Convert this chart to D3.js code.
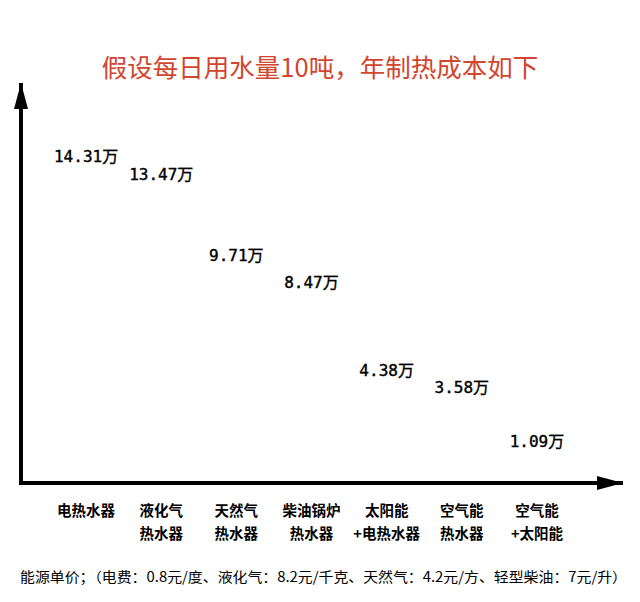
<!DOCTYPE html>
<html>
<head>
<meta charset="utf-8">
<script src="https://cdn.jsdelivr.net/npm/d3@7"></script>
<style>
  body { margin: 0; background: #fff; }
</style>
</head>
<body>
<div id="chart"></div>
<script>
// data
const line1 = ['电热水器', '液化气', '天然气', '柴油锅炉', '太阳能', '空气能', '空气能'];
const line2 = ['', '热水器', '热水器', '热水器', '+电热水器', '热水器', '+太阳能'];
const costs = [14.31, 13.47, 9.71, 8.47, 4.38, 3.58, 1.09];
const titleText = '假设每日用水量10吨，年制热成本如下';
const noteText = '能源单价；（电费：0.8元/度、液化气：8.2元/千克、天然气：4.2元/方、轻型柴油：7元/升）';

const W = 640, H = 602;
const svg = d3.select('#chart').append('svg')
  .attr('width', W).attr('height', H);

// arrow head
svg.append('defs').append('marker')
  .attr('id', 'arr')
  .attr('viewBox', '0 0 10 10')
  .attr('refX', 10).attr('refY', 5)
  .attr('markerWidth', 26).attr('markerHeight', 14)
  .attr('markerUnits', 'userSpaceOnUse')
  .attr('orient', 'auto')
  .attr('preserveAspectRatio', 'none')
  .append('path')
  .attr('d', 'M0,0 L10,5 L0,10 Z')
  .attr('fill', '#000');

const x = d3.scaleBand().domain(line1.map((d, i) => i)).range([48.5, 574.5]);
const y = d3.scaleLinear().domain([0, d3.max(costs)]).range([483, 175]);

// title
svg.append('text')
  .attr('x', 320).attr('y', 77)
  .attr('text-anchor', 'middle')
  .attr('font-family', "'Noto Sans CJK SC', sans-serif")
  .attr('font-size', 25.5)
  .attr('fill', '#d2452e')
  .text(titleText);

// axes
svg.append('line')
  .attr('x1', 21).attr('y1', 485).attr('x2', 21).attr('y2', 83)
  .attr('stroke', '#000').attr('stroke-width', 4)
  .attr('marker-end', 'url(#arr)');
svg.append('line')
  .attr('x1', 19).attr('y1', 483).attr('x2', 623).attr('y2', 483)
  .attr('stroke', '#000').attr('stroke-width', 4)
  .attr('marker-end', 'url(#arr)');

// value labels
svg.selectAll('.val')
  .data(costs)
  .enter()
  .append('text')
  .attr('class', 'val')
  .attr('x', (d, i) => x(i) + x.bandwidth() / 2)
  .attr('y', d => y(d) - 13)
  .attr('text-anchor', 'middle')
  .attr('font-family', "'DejaVu Sans Mono', 'Noto Sans CJK SC', monospace")
  .attr('font-size', 16)
  .attr('stroke', '#000')
  .attr('stroke-width', 0.4)
  .text(d => d.toFixed(2) + '万');

// category labels
const cat = svg.selectAll('.cat')
  .data(line1)
  .enter()
  .append('text')
  .attr('class', 'cat')
  .attr('text-anchor', 'middle')
  .attr('font-family', "'Noto Sans CJK SC', sans-serif")
  .attr('font-size', 14.5)
  .attr('font-weight', 'bold');
cat.append('tspan')
  .attr('x', (d, i) => x(i) + x.bandwidth() / 2)
  .attr('y', 516)
  .text(d => d);
cat.append('tspan')
  .attr('x', (d, i) => x(i) + x.bandwidth() / 2)
  .attr('y', 539)
  .text((d, i) => line2[i]);

// footer note
svg.append('text')
  .attr('x', 20).attr('y', 582)
  .attr('font-family', "'Noto Sans CJK SC', sans-serif")
  .attr('font-size', 14)
  .attr('textLength', 607)
  .attr('lengthAdjust', 'spacingAndGlyphs')
  .text(noteText);
</script>
</body>
</html>
